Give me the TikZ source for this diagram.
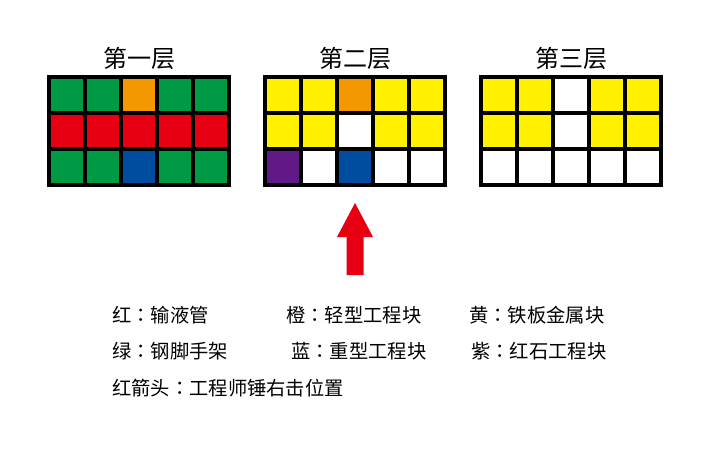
\documentclass[tikz,border=0pt]{standalone}
\usepackage{fontspec}
\newfontfamily\cjk{Noto Sans CJK SC}
\newfontfamily\cjktc{Noto Sans CJK TC}
\newcommand\fwcolon{{\cjktc ：}}
\definecolor{cgreen}{HTML}{009944}
\definecolor{corange}{HTML}{F39800}
\definecolor{cred}{HTML}{E60012}
\definecolor{cblue}{HTML}{004DA0}
\definecolor{cyellow}{HTML}{FFF100}
\definecolor{cpurple}{HTML}{601986}
\definecolor{cwhite}{HTML}{FFFFFF}
\begin{document}
\begin{tikzpicture}[x=1pt,y=-1pt,
  cell/.style={draw=black,line width=4pt,minimum size=36pt,inner sep=0pt,outer sep=0pt,fill=#1},
  title/.style={font=\cjk\fontsize{24}{26}\selectfont,text=black,inner sep=0pt},
  legend/.style={font=\cjk\fontsize{19.3}{22}\selectfont,text=black,anchor=west,inner sep=0pt}]
\useasboundingbox (0,0) rectangle (710,450);
% grids
\def\gridrow#1#2#3#4{%
  \foreach \c [count=\i] in {#4} {
    \node[cell=\c] (g#1r#2c\i) at ({#3+18+36*(\i-1)},{95+36*(#2-1)}) {};
  }}
% grid 1 (left edge of path at 49)
\gridrow{1}{1}{49}{cgreen,cgreen,corange,cgreen,cgreen}
\gridrow{1}{2}{49}{cred,cred,cred,cred,cred}
\gridrow{1}{3}{49}{cgreen,cgreen,cblue,cgreen,cgreen}
% grid 2
\gridrow{2}{1}{265}{cyellow,cyellow,corange,cyellow,cyellow}
\gridrow{2}{2}{265}{cyellow,cyellow,cwhite,cyellow,cyellow}
\gridrow{2}{3}{265}{cpurple,cwhite,cblue,cwhite,cwhite}
% grid 3
\gridrow{3}{1}{481}{cyellow,cyellow,cwhite,cyellow,cyellow}
\gridrow{3}{2}{481}{cyellow,cyellow,cwhite,cyellow,cyellow}
\gridrow{3}{3}{481}{cwhite,cwhite,cwhite,cwhite,cwhite}
% titles
\node[title] (t1) at (139,58) {第一层};
\node[title] (t2) at (355,58) {第二层};
\node[title] (t3) at (571,58) {第三层};
% arrow
\fill[cred] (355,203) -- (373,237) -- (363.5,237) -- (363.5,275) -- (346.5,275) -- (346.5,237) -- (337,237) -- cycle;
% legend
\node[legend] (l1) at (112,315) {红\fwcolon 输液管};
\node[legend] (l2) at (286,315) {橙\fwcolon 轻型工程块};
\node[legend] (l3) at (469,315) {黄\fwcolon 铁板金属块};
\node[legend] (l4) at (112,351.5) {绿\fwcolon 钢脚手架};
\node[legend] (l5) at (291,351.5) {蓝\fwcolon 重型工程块};
\node[legend] (l6) at (471,351.5) {紫\fwcolon 红石工程块};
\node[legend] (l7) at (112,388) {红箭头\fwcolon 工程师锤右击位置};
\end{tikzpicture}
\end{document}
